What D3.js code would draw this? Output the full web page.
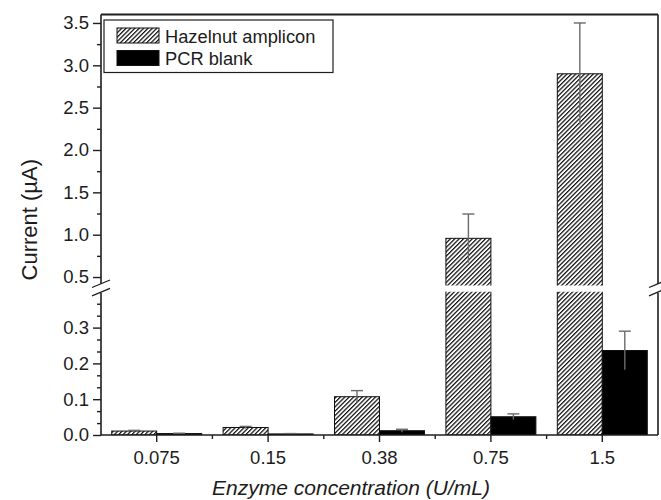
<!DOCTYPE html>
<html>
<head>
<meta charset="utf-8">
<script src="https://cdn.jsdelivr.net/npm/d3@7"></script>
<style>
  body { margin: 0; background: #fff; }
  svg { display: block; }
  text { font-family: "Liberation Sans", Arial, sans-serif; fill: #1c1c1c; }
</style>
</head>
<body>
<svg id="chart" width="661" height="500"></svg>
<script>
// Enzyme concentrations (U/mL) on the x axis
const categories = ["0.075", "0.15", "0.38", "0.75", "1.5"];
const seriesNames = ["Hazelnut amplicon", "PCR blank"];

// Mean current (µA) and error for each series
const hazelnut    = [0.011, 0.021, 0.107, 0.957, 2.90];
const hazelnutErr = [0.002, 0.003, 0.017, 0.287, 0.60];
const pcrBlank    = [0.004, 0.003, 0.012, 0.051, 0.236];
const pcrBlankErr = [0.001, 0.001, 0.004, 0.008, 0.054];

// Broken y axis: lower and upper segments
const lowerDomain = [0, 0.4];
const upperDomain = [0.4, 3.6];
const lowerTicks = [0.0, 0.1, 0.2, 0.3];
const lowerMinor = [0.0333, 0.0667, 0.1333, 0.1667, 0.2333, 0.2667, 0.3333, 0.3667];
const upperTicks = [0.5, 1.0, 1.5, 2.0, 2.5, 3.0, 3.5];
const upperMinor = [0.75, 1.25, 1.75, 2.25, 2.75, 3.25];

const svg = d3.select("#chart");
const L = 101, R = 658, T = 14.5, B = 435;
const breakTop = 285.5, breakBottom = 291.8;
const axisColor = "#1e1e1e";

const x = d3.scaleBand().domain(categories).range([L, R]).paddingInner(0).paddingOuter(0);
const xInner = d3.scaleBand().domain(seriesNames).range([0, x.bandwidth()]).paddingInner(0).paddingOuter(0.238);
const yLow = d3.scaleLinear().domain(lowerDomain).range([B, breakBottom]);
const yUp = d3.scaleLinear().domain(upperDomain).range([breakTop, T]);

// Hatch pattern for the amplicon bars
const defs = svg.append("defs");
const pat = defs.append("pattern")
  .attr("id", "hatch").attr("patternUnits", "userSpaceOnUse")
  .attr("width", 3.1).attr("height", 3.1)
  .attr("patternTransform", "rotate(45)");
pat.append("rect").attr("width", 3.1).attr("height", 3.1).attr("fill", "#fff");
pat.append("line").attr("x1", 0.6).attr("y1", -1).attr("x2", 0.6).attr("y2", 5)
  .attr("stroke", "#111").attr("stroke-width", 1.3);

defs.append("clipPath").attr("id", "clipUp").append("rect")
  .attr("x", L - 20).attr("y", T).attr("width", R - L + 40).attr("height", breakTop - T);
defs.append("clipPath").attr("id", "clipLow").append("rect")
  .attr("x", L - 20).attr("y", breakBottom).attr("width", R - L + 40).attr("height", B - breakBottom);

const rows = categories.map((c, i) => [
  { cat: c, s: seriesNames[0], v: hazelnut[i], e: hazelnutErr[i] },
  { cat: c, s: seriesNames[1], v: pcrBlank[i], e: pcrBlankErr[i] }
]).flat();

const fillOf = s => s === seriesNames[0] ? "url(#hatch)" : "#000";

// Lower segment of every bar
svg.append("g").attr("clip-path", "url(#clipLow)")
  .selectAll("rect").data(rows).join("rect")
  .attr("x", d => x(d.cat) + xInner(d.s))
  .attr("width", xInner.bandwidth())
  .attr("y", d => d.v > lowerDomain[1] ? breakBottom - 5 : yLow(d.v))
  .attr("height", d => B - (d.v > lowerDomain[1] ? breakBottom - 5 : yLow(d.v)))
  .attr("fill", d => fillOf(d.s))
  .attr("stroke", "#111").attr("stroke-width", 1);

// Upper segment of bars that cross the break
svg.append("g").attr("clip-path", "url(#clipUp)")
  .selectAll("rect").data(rows.filter(d => d.v > lowerDomain[1])).join("rect")
  .attr("x", d => x(d.cat) + xInner(d.s))
  .attr("width", xInner.bandwidth())
  .attr("y", d => yUp(d.v))
  .attr("height", d => breakTop + 5 - yUp(d.v))
  .attr("fill", d => fillOf(d.s))
  .attr("stroke", "#111").attr("stroke-width", 1);

// Error bars
const yAny = v => v > lowerDomain[1] ? yUp(v) : yLow(v);
const eb = svg.append("g").attr("stroke", "#6a6a6a").attr("stroke-width", 1.4).attr("fill", "none");
rows.forEach(d => {
  const cx = x(d.cat) + xInner(d.s) + xInner.bandwidth() / 2;
  const top = yAny(d.v + d.e), bot = yAny(Math.max(0, d.v - d.e));
  eb.append("line").attr("x1", cx).attr("x2", cx).attr("y1", top).attr("y2", bot);
  eb.append("line").attr("x1", cx - 6).attr("x2", cx + 6).attr("y1", top).attr("y2", top);
});

// Left axis, lower segment
svg.append("g").attr("transform", `translate(${L},0)`)
  .call(d3.axisLeft(yLow).tickValues(lowerTicks).tickFormat(d3.format(".1f")).tickSize(8).tickPadding(4).tickSizeOuter(0));
svg.append("g").attr("transform", `translate(${L},0)`)
  .call(d3.axisLeft(yLow).tickValues(lowerMinor).tickFormat("").tickSize(4).tickSizeOuter(0));
// Left axis, upper segment
svg.append("g").attr("transform", `translate(${L},0)`)
  .call(d3.axisLeft(yUp).tickValues(upperTicks).tickFormat(d3.format(".1f")).tickSize(8).tickPadding(4).tickSizeOuter(0));
svg.append("g").attr("transform", `translate(${L},0)`)
  .call(d3.axisLeft(yUp).tickValues(upperMinor).tickFormat("").tickSize(4).tickSizeOuter(0));

// Bottom axis: major ticks at categories, minor ticks between them
svg.append("g").attr("transform", `translate(0,${B})`)
  .call(d3.axisBottom(x).tickSize(7).tickPadding(9).tickSizeOuter(0));
svg.append("g").attr("transform", `translate(0,${B})`)
  .call(d3.axisBottom(x).tickValues(categories.slice(1)).tickFormat("").tickSize(4).tickSizeOuter(0))
  .selectAll(".tick").attr("transform", d => `translate(${x(d)},0)`);

svg.selectAll(".domain").remove();
svg.selectAll(".tick line").attr("stroke", axisColor).attr("stroke-width", 1.4);
svg.selectAll(".tick text").attr("font-size", 18.5).attr("fill", "#1c1c1c")
  .attr("font-family", "'Liberation Sans', Arial, sans-serif");

// Frame with the axis break
const frame = svg.append("g").attr("stroke", axisColor).attr("stroke-width", 1.6).attr("fill", "none");
frame.append("line").attr("x1", L).attr("x2", R).attr("y1", B).attr("y2", B);
frame.append("line").attr("x1", L).attr("x2", R).attr("y1", T).attr("y2", T).attr("stroke-width", 2);
[L, R].forEach(xx => {
  frame.append("line").attr("x1", xx).attr("x2", xx).attr("y1", T).attr("y2", breakTop - 1.5);
  frame.append("line").attr("x1", xx).attr("x2", xx).attr("y1", breakBottom + 1).attr("y2", B);
  frame.append("line").attr("x1", xx - 9).attr("x2", xx + 9).attr("y1", breakTop + 2).attr("y2", breakTop - 5.5).attr("stroke-width", 1.3);
  frame.append("line").attr("x1", xx - 9).attr("x2", xx + 9).attr("y1", breakBottom + 4).attr("y2", breakBottom - 3.5).attr("stroke-width", 1.3);
});

// Legend
const lg = svg.append("g");
lg.append("rect").attr("x", 104).attr("y", 20).attr("width", 229).attr("height", 52.5)
  .attr("fill", "#fff").attr("stroke", axisColor).attr("stroke-width", 1.2);
seriesNames.forEach((s, i) => {
  const yy = 28 + i * 22.5;
  lg.append("rect").attr("x", 117).attr("y", yy).attr("width", 42).attr("height", 15)
    .attr("fill", fillOf(s)).attr("stroke", "#111").attr("stroke-width", 1);
  lg.append("text").attr("x", 165).attr("y", yy + 14.6).attr("font-size", 18.3).text(s);
});

// Axis titles
svg.append("text").attr("transform", `translate(37,${(T + B) / 2 - 5}) rotate(-90)`)
  .attr("text-anchor", "middle").attr("font-size", 22).text("Current (µA)");
svg.append("text").attr("x", 351).attr("y", 495).attr("text-anchor", "middle")
  .attr("font-size", 21).attr("font-style", "italic").text("Enzyme concentration (U/mL)");
</script>
</body>
</html>
